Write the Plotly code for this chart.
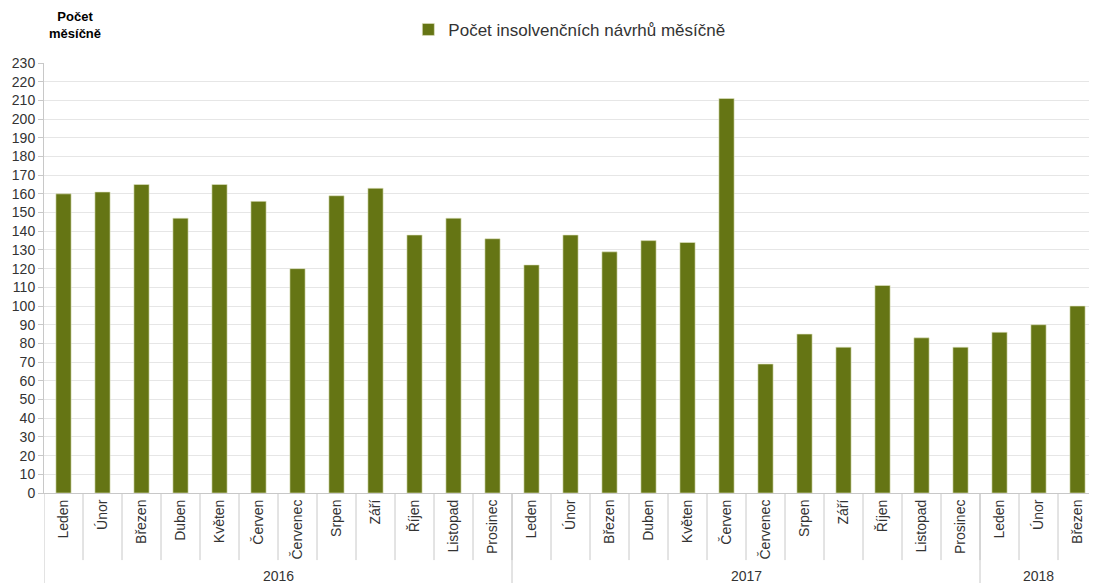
import plotly.graph_objects as go

months = ["Leden", "Únor", "Březen", "Duben", "Květen", "Červen", "Červenec",
          "Srpen", "Září", "Říjen", "Listopad", "Prosinec"]
years = ["2016", "2017", "2018"]
months_per_year = [12, 12, 3]
values_2016 = [160, 161, 165, 147, 165, 156, 120, 159, 163, 138, 147, 136]
values_2017 = [122, 138, 129, 135, 134, 211, 69, 85, 78, 111, 83, 78]
values_2018 = [86, 90, 100]
series_name = "Počet insolvenčních návrhů měsíčně"
y_title = "<b>Počet<br>měsíčně</b>"

labels = []
for n in months_per_year:
    labels += months[:n]
values = values_2016 + values_2017 + values_2018
xs = list(range(len(values)))

fig = go.Figure()
fig.add_trace(go.Bar(
    x=xs, y=values, name=series_name,
    marker=dict(color="#657514", line=dict(color="#e4e8c8", width=0.6)),
    width=0.39, showlegend=True,
))

grey = "#c8c8c8"
shapes = []
# month dividers
for i in range(len(values) - 1):
    shapes.append(dict(type="line", xref="x", yref="paper", x0=i + 0.5, x1=i + 0.5,
                       y0=0, y1=-0.156, line=dict(color=grey, width=1)))
# year dividers
start = 0
bounds = [-0.5]
for n in months_per_year:
    start += n
    bounds.append(start - 0.5)
for b in bounds[:-1]:
    shapes.append(dict(type="line", xref="x", yref="paper", x0=b, x1=b,
                       y0=0, y1=-0.22, line=dict(color=grey, width=1)))

annotations = []
start = 0
for yr, n in zip(years, months_per_year):
    mid = start + (n - 1) / 2
    annotations.append(dict(x=mid, y=-0.193, xref="x", yref="paper", text=yr,
                            showarrow=False, yanchor="middle",
                            font=dict(size=14, color="#333333")))
    start += n
annotations.append(dict(xref="paper", yref="paper", x=0.029, y=1.088, text=y_title,
                        showarrow=False, xanchor="center", yanchor="middle",
                        font=dict(size=13, color="#000000"), align="center"))

fig.update_layout(
    width=1089, height=575,
    margin=dict(l=36, r=0, t=55, b=90, autoexpand=False),
    plot_bgcolor="white", paper_bgcolor="white",
    font=dict(family="Liberation Sans, Arial, sans-serif", size=14, color="#333333"),
    shapes=shapes, annotations=annotations,
    legend=dict(orientation="h", x=0.346, xanchor="left", y=1.077, yanchor="middle",
                font=dict(size=17, color="#333333")),
    bargap=0.6,
)
fig.update_xaxes(
    range=[-0.5, len(values) - 0.5], tickmode="array", tickvals=xs, ticktext=labels,
    tickangle=-90, showgrid=False, showline=True, linecolor=grey, ticks="",
    tickfont=dict(size=14, color="#333333"), zeroline=False, automargin=False,
)
fig.update_yaxes(
    range=[0, 230], dtick=10, showgrid=True, gridcolor="#e6e6e6", showline=True,
    linecolor=grey, ticks="outside", ticklen=5, tickcolor=grey,
    tickfont=dict(size=14, color="#333333"), zeroline=False, automargin=False,
)
fig.write_html("out.html")
